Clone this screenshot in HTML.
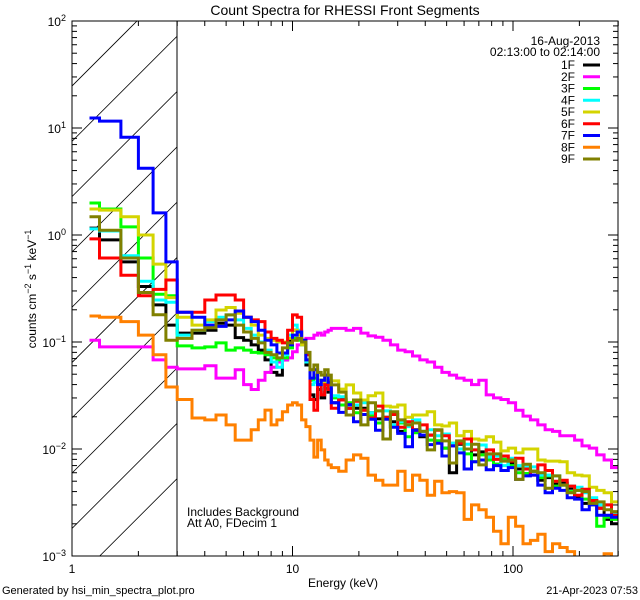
<!DOCTYPE html>
<html><head><meta charset="utf-8"><style>
html,body{margin:0;padding:0;background:#fff;}
svg{display:block;font-family:"Liberation Sans",sans-serif;}
</style></head><body>
<svg id="chart" width="640" height="600" viewBox="0 0 640 600" xmlns="http://www.w3.org/2000/svg">
<defs><clipPath id="plotclip"><rect x="72" y="21" width="546" height="535"/></clipPath>
<clipPath id="hatchclip"><rect x="72" y="21" width="105" height="535"/></clipPath></defs>
<text x="345" y="15" font-size="14" text-anchor="middle">Count Spectra for RHESSI Front Segments</text>
<g id="hatch" clip-path="url(#hatchclip)"></g>
<line x1="177" y1="21" x2="177" y2="556" stroke="#000" stroke-width="1"/>
<g id="series" clip-path="url(#plotclip)"></g>
<rect x="72" y="21" width="546" height="535" fill="none" stroke="#000" stroke-width="1"/>
<g id="axes"></g>
<text x="343" y="587" font-size="12" text-anchor="middle">Energy (keV)</text>
<text transform="translate(36,289) rotate(-90)" font-size="12" text-anchor="middle">counts cm<tspan dy="-5" font-size="9">−2</tspan><tspan dy="5"> s</tspan><tspan dy="-5" font-size="9">−1</tspan><tspan dy="5"> keV</tspan><tspan dy="-5" font-size="9">−1</tspan></text>
<text x="600" y="45" font-size="12" text-anchor="end">16-Aug-2013</text>
<text x="600" y="56" font-size="12" text-anchor="end">02:13:00 to 02:14:00</text>
<g id="legend"></g>
<text x="187" y="516" font-size="12">Includes Background</text>
<text x="187" y="527" font-size="12">Att A0, FDecim 1</text>
<text x="2" y="594" font-size="11">Generated by hsi_min_spectra_plot.pro</text>
<text x="638" y="594" font-size="11" text-anchor="end">21-Apr-2023 07:53</text>
</svg>
<script>
// Energy bin edges (keV)
const edgesLow = [1.2,1.333,1.667,2.0,2.333,2.667,3.0];
const edgesMid = [3.5,4,4.5,5,5.5,6,6.5,7,7.5,8,8.5,9,9.5,10,10.5,11,11.5,12,12.5,13,13.5,14,14.5,15];
const edgesHigh = [16.2,17.5,18.9,20.4,22.0,23.8,25.7,27.8,30.0,32.4,35.0,37.8,40.8,44.1,47.6,51.4,55.5,60.0,64.8,70.0,75.6,81.6,88.1,95.2,102.8,111,119.9,129.5,139.8,151,163.1,176.2,190.3,205.5,221.9,239.7,258.8,279.6,301.9];
const seriesNames = ['1F','2F','3F','4F','5F','6F','7F','8F','9F'];
const seriesColors = ['#000000','#ff00ff','#00ff00','#00ffff','#d4d400','#ff0000','#0000ff','#ff8000','#808000'];
const s1F = [1.16,0.9,0.56,0.33,0.222,0.144, 0.121,0.121,0.129,0.15,0.144,0.11,0.104,0.094,0.084,0.068,0.052,0.049,0.068,0.104,0.129,0.124,0.094,0.061,0.032,0.029,0.036,0.03,0.037,0.034, 0.027,0.0293,0.024,0.024,0.024,0.0218,0.0191,0.0198,0.018,0.0146,0.0168,0.0151,0.013,0.0135,0.0119,0.0102,0.006,0.0111,0.01,0.0088,0.0094,0.0084,0.0072,0.008,0.0074,0.0065,0.0068,0.0062,0.0051,0.0054,0.0047,0.0048,0.0043,0.0035,0.0031,0.0033,0.0028,0.0022,0.002];
const s2F = [0.104,0.09,0.09,0.09,0.068,0.058, 0.056,0.056,0.06,0.046,0.046,0.055,0.04,0.036,0.044,0.052,0.058,0.065,0.068,0.071,0.081,0.094,0.104,0.108,0.108,0.116,0.121,0.116,0.124,0.129, 0.134,0.134,0.129,0.134,0.121,0.114,0.111,0.104,0.094,0.084,0.081,0.074,0.068,0.065,0.058,0.052,0.049,0.046,0.044,0.04,0.044,0.032,0.03,0.029,0.027,0.023,0.0203,0.0187,0.0168,0.0151,0.0146,0.0133,0.0133,0.0121,0.0107,0.0102,0.0088,0.0079,0.0067];
const s3F = [1.99,1.75,1.19,0.61,0.28,0.27, 0.092,0.088,0.09,0.098,0.084,0.088,0.084,0.08,0.079,0.076,0.071,0.068,0.071,0.088,0.108,0.104,0.094,0.068,0.044,0.046,0.04,0.044,0.04,0.037, 0.03,0.0258,0.027,0.0218,0.0231,0.0203,0.0175,0.0191,0.0162,0.0175,0.013,0.0142,0.0146,0.0121,0.0119,0.0102,0.0113,0.01,0.009,0.0076,0.0088,0.0079,0.0072,0.008,0.007,0.006,0.0059,0.0062,0.0054,0.0056,0.0045,0.0046,0.004,0.0041,0.0034,0.003,0.0019,0.0023,0.0022];
const s4F = [1.14,1.09,0.64,0.37,0.247,0.235, 0.116,0.129,0.155,0.17,0.179,0.161,0.134,0.116,0.1,0.084,0.065,0.058,0.076,0.116,0.144,0.129,0.094,0.065,0.04,0.042,0.044,0.036,0.041,0.044, 0.0314,0.0308,0.0258,0.0258,0.027,0.0218,0.0227,0.0227,0.0168,0.018,0.0162,0.0187,0.0146,0.0151,0.0133,0.0138,0.0113,0.01,0.0111,0.0098,0.0109,0.0084,0.0086,0.007,0.0082,0.007,0.0068,0.0068,0.0057,0.0057,0.0056,0.0046,0.0045,0.0044,0.0039,0.0035,0.003,0.003,0.0025];
const s5F = [1.75,1.71,1.48,1.0,0.535,0.26, 0.17,0.144,0.161,0.199,0.21,0.186,0.17,0.144,0.116,0.108,0.104,0.1,0.1,0.108,0.129,0.116,0.094,0.068,0.055,0.049,0.044,0.042,0.049,0.04, 0.0433,0.0363,0.0397,0.0334,0.0287,0.0314,0.0334,0.0252,0.0247,0.0258,0.0198,0.0208,0.0208,0.0223,0.0168,0.0164,0.0175,0.0133,0.0146,0.0124,0.0121,0.013,0.0116,0.0096,0.0102,0.0092,0.01,0.01,0.0079,0.0077,0.0077,0.0076,0.006,0.0057,0.0056,0.0044,0.0041,0.0039,0.0032];
const s6F = [0.92,0.61,0.42,0.27,0.31,0.38, 0.19,0.19,0.247,0.275,0.275,0.247,0.17,0.161,0.155,0.124,0.108,0.104,0.098,0.129,0.179,0.17,0.104,0.076,0.029,0.023,0.04,0.032,0.04,0.036, 0.024,0.0287,0.024,0.028,0.023,0.0195,0.0252,0.0197,0.021,0.016,0.018,0.015,0.0168,0.0135,0.015,0.0133,0.0107,0.0113,0.0124,0.0098,0.0079,0.0098,0.008,0.0086,0.0077,0.0082,0.0065,0.0057,0.0071,0.0063,0.005,0.0051,0.0045,0.0037,0.0042,0.0033,0.0028,0.003,0.0024];
const s7F = [12.4,11.6,8.2,4.2,1.61,0.56, 0.19,0.17,0.144,0.14,0.161,0.195,0.17,0.155,0.129,0.104,0.094,0.079,0.079,0.094,0.116,0.124,0.104,0.068,0.046,0.055,0.04,0.044,0.049,0.042, 0.027,0.022,0.026,0.018,0.021,0.019,0.015,0.019,0.016,0.014,0.0105,0.015,0.0135,0.011,0.0113,0.0086,0.0107,0.0092,0.0065,0.0076,0.0079,0.0064,0.007,0.0063,0.0067,0.0052,0.0056,0.0057,0.0046,0.0039,0.0043,0.0041,0.0035,0.0034,0.0027,0.003,0.0024,0.0024,0.0023];
const s8F = [0.175,0.17,0.155,0.116,0.076,0.038, 0.029,0.0195,0.0187,0.0208,0.0168,0.0121,0.0121,0.0151,0.0187,0.0231,0.0168,0.0187,0.0223,0.0258,0.027,0.0258,0.0187,0.0162,0.0121,0.0084,0.0121,0.0098,0.0079,0.0071, 0.0067,0.0062,0.0079,0.0088,0.0082,0.0057,0.0051,0.0046,0.0046,0.0062,0.0041,0.0057,0.0051,0.0037,0.005,0.0039,0.004,0.0039,0.0022,0.003,0.0027,0.0023,0.0017,0.0013,0.0023,0.0019,0.0013,0.0014,0.0016,0.0011,0.0013,0.0012,0.0011,0.0009,0.0009,0.0009,0.0009,0.00105,0.0009];
const s9F = [1.48,1.11,0.61,0.29,0.18,0.104, 0.108,0.129,0.136,0.161,0.179,0.144,0.124,0.108,0.098,0.08,0.076,0.071,0.088,0.098,0.104,0.108,0.1,0.08,0.055,0.061,0.052,0.049,0.055,0.049, 0.0397,0.034,0.0208,0.0287,0.0168,0.027,0.0227,0.0124,0.0223,0.0187,0.0168,0.0175,0.0146,0.0098,0.0151,0.0119,0.0074,0.0119,0.01,0.0111,0.0071,0.009,0.009,0.0077,0.0079,0.0052,0.0072,0.0062,0.006,0.0043,0.0056,0.0046,0.0039,0.0041,0.004,0.0031,0.0032,0.0027,0.0026];
const seriesValues = [s1F,s2F,s3F,s4F,s5F,s6F,s7F,s8F,s9F];
const xMajor = [1,10,100];
const xMajorLabels = ['1','10','100'];
const yExponents = [-3,-2,-1,0,1,2];

const NS='http://www.w3.org/2000/svg';
const X0=72, XDEC=220.5, YTOP=21, YDEC=107, XR=618, YB=556;
function xs(e){return X0+XDEC*Math.log10(e);}
function ys(v){return YTOP+YDEC*(2-Math.log10(v));}
function mk(tag,attrs,parent){const el=document.createElementNS(NS,tag);for(const k in attrs)el.setAttribute(k,attrs[k]);parent.appendChild(el);return el;}
const edges = edgesLow.concat(edgesMid, edgesHigh);

// hatch
const hatch=document.getElementById('hatch');
for(let k=0;k<10;k++){
  const c=158+55.3*k;
  const ln=mk('line',{x1:c-600,y1:600,x2:c,y2:0,stroke:'#000','stroke-width':0.8},hatch);
  
  
}

// series
const sg=document.getElementById('series');
seriesValues.forEach((vals,i)=>{
  let d='M'+xs(edges[0]).toFixed(1)+','+ys(vals[0]).toFixed(1);
  for(let j=0;j<vals.length;j++){
    if(j>0) d+='V'+ys(vals[j]).toFixed(1);
    d+='H'+xs(edges[j+1]).toFixed(1);
  }
  const p=mk('path',{d:d,fill:'none',stroke:seriesColors[i],'stroke-width':3,'stroke-linejoin':'miter'},sg);
  
  
});

// axes
const ag=document.getElementById('axes');
function tick(x1,y1,x2,y2){const t=mk('line',{x1:x1,y1:y1,x2:x2,y2:y2,stroke:'#000','stroke-width':1},ag);
  
  }
for(let dec=0;dec<3;dec++){
  for(let m=1;m<10;m++){
    const e=m*Math.pow(10,dec); const x=xs(e); if(x>XR+0.5) continue;
    const len=m===1?10:5;
    tick(x,YB,x,YB-len); tick(x,YTOP,x,YTOP+len);
  }
}
xMajor.forEach((e,i)=>{const t=mk('text',{x:xs(e),y:573,'font-size':12,'text-anchor':'middle'},ag);t.textContent=xMajorLabels[i];
  
  });
yExponents.forEach(p=>{
  for(let m=1;m<10;m++){
    if(p===2&&m>1) break;
    const y=ys(m*Math.pow(10,p)); const len=m===1?10:5;
    tick(X0,y,X0+len,y); tick(XR,y,XR-len,y);
  }
  const t=mk('text',{x:66,y:ys(Math.pow(10,p))+5,'font-size':12,'text-anchor':'end'},ag);
  
  
  t.innerHTML='10<tspan dy="-5" font-size="9">'+(p<0?'−'+(-p):p)+'</tspan>';
});

// legend
const lg=document.getElementById('legend');
seriesNames.forEach((n,i)=>{
  const y=65+11.75*i;
  const t=mk('text',{x:575,y:y+4,'font-size':12,'text-anchor':'end'},lg);t.textContent=n;
  
  
  const l=mk('line',{x1:583,y1:y,x2:600,y2:y,stroke:seriesColors[i],'stroke-width':3},lg);
  
  
});
</script>
</body></html>
